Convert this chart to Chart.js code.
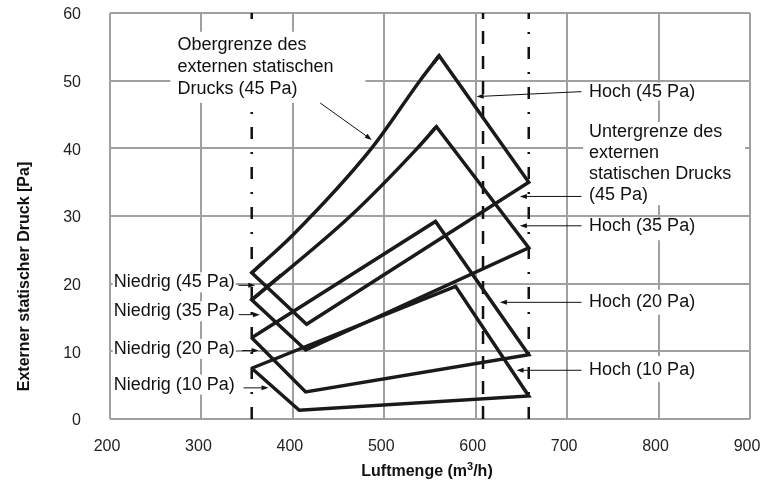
<!DOCTYPE html>
<html>
<head>
<meta charset="utf-8">
<script src="https://cdn.jsdelivr.net/npm/chart.js@4.4.1/dist/chart.umd.min.js"></script>
<style>
  html, body { margin: 0; padding: 0; background: #fff; }
  canvas { display: block; }
</style>
</head>
<body>
<canvas id="fanChart" width="760" height="489"></canvas>
<script>
// --- data (Luftmenge m3/h, Druck Pa) ---
const xTicks = [200, 300, 400, 500, 600, 700, 800, 900];
const yTicks = [0, 10, 20, 30, 40, 50, 60];

// 45 Pa and 35 Pa: curved upper edge + straight rest (peak -> right -> low -> left)
const curve45X = [355, 400, 486, 539, 560];
const curve45Y = [21.6, 27.2, 40, 50, 53.7];
const edge45X = [560, 658, 415, 355];
const edge45Y = [53.7, 35.0, 14.0, 21.6];

const curve35X = [355, 463, 536, 557];
const curve35Y = [17.6, 30, 40, 43.2];
const edge35X = [557, 658, 414, 355];
const edge35Y = [43.2, 25.3, 10.2, 17.6];

// 20 Pa and 10 Pa: closed straight outlines
const flow20 = [355, 556, 658, 414, 355];
const press20 = [12.0, 29.2, 9.5, 4.0, 12.0];
const flow10 = [355, 578, 658, 407, 355];
const press10 = [7.5, 19.6, 3.4, 1.3, 7.5];

// vertical limits of the air flow
const limitFlows = [355, 608, 658];

const FONT = "'Liberation Sans', Arial, sans-serif";

function pts(xs, ys) {
  return xs.map((x, i) => ({x: x, y: ys[i]}));
}

function line(data, smooth) {
  return {
    data: data,
    showLine: true,
    borderColor: '#1a1a1a',
    borderWidth: 3.5,
    borderJoinStyle: 'miter',
    pointRadius: 0,
    tension: 0,
    cubicInterpolationMode: smooth ? 'monotone' : 'default',
    fill: false
  };
}

const datasets = [];
[[curve45X, curve45Y, edge45X, edge45Y], [curve35X, curve35Y, edge35X, edge35Y]].forEach(s => {
  const c = pts(s[0], s[1]);
  datasets.push(line(c, true));
  // straight part, running a short way back along the curve so the corners stay sharp
  const back = (p, q) => ({x: p.x + (q.x - p.x) * 0.3, y: p.y + (q.y - p.y) * 0.3});
  const e = pts(s[2], s[3]);
  datasets.push(line([back(c[c.length - 1], c[c.length - 2])].concat(e, [back(c[0], c[1])]), false));
});
datasets.push(line(pts(flow20, press20), false));
datasets.push(line(pts(flow10, press10), false));
const lastOutline = datasets.length - 1;

limitFlows.forEach((f, i) => {
  datasets.push({
    data: [{x: f, y: 0}, {x: f, y: 60}],
    showLine: true,
    borderColor: '#111',
    borderWidth: 2.5,
    borderDash: i === 1 ? [13, 12] : [12, 13, 2, 13],
    pointRadius: 0,
    fill: false
  });
});

// annotation texts: anchor in data units, box padding in px [l, t, r, b]
const notes = [
  {lines: ['Obergrenze des', 'externen statischen', 'Drucks (45 Pa)'], x: 273.7, y: 55.3, lh: 22, pad: [7, 13, 32, 14], arrow: [429.9, 46.7, 486.3, 41.25]},
  {lines: ['Hoch (45 Pa)'], x: 724, y: 48.38, lh: 21, pad: [7, 9, 6, 9], arrow: [715.7, 48.38, 601.0, 47.65]},
  {lines: ['Untergrenze des', 'externen', 'statischen Drucks', '(45 Pa)'], x: 724, y: 42.39, lh: 21, pad: [6, 10, 14, 10], arrow: [715.7, 32.89, 648.3, 32.89]},
  {lines: ['Hoch (35 Pa)'], x: 724, y: 28.49, lh: 21, pad: [7, 8, 6, 14], arrow: [715.7, 28.55, 648.3, 28.55]},
  {lines: ['Hoch (20 Pa)'], x: 724, y: 17.34, lh: 21, pad: [7, 12, 6, 13], arrow: [715.7, 17.24, 626.4, 17.24]},
  {lines: ['Hoch (10 Pa)'], x: 724, y: 7.23, lh: 21, pad: [7, 14, 6, 12], arrow: [715.7, 7.2, 644.7, 7.2]},
  {lines: ['Niedrig (45 Pa)'], x: 204.1, y: 20.19, lh: 21, pad: [1, 10, 1, 10], arrow: [340.7, 19.75, 358.9, 19.75]},
  {lines: ['Niedrig (35 Pa)'], x: 204.1, y: 15.91, lh: 21, pad: [1, 10, 1, 10], arrow: [340.7, 15.42, 364.0, 15.42]},
  {lines: ['Niedrig (20 Pa)'], x: 204.1, y: 10.36, lh: 21, pad: [1, 10, 1, 10], arrow: [344.4, 10.11, 362.5, 10.11]},
  {lines: ['Niedrig (10 Pa)'], x: 204.1, y: 5.09, lh: 21, pad: [1, 10, 1, 10], arrow: [346.1, 4.6, 373.4, 4.6]}
];

function noteBox(ctx, xs, ys, n) {
  ctx.font = '18px ' + FONT;
  let w = 0;
  n.lines.forEach(l => { w = Math.max(w, ctx.measureText(l).width); });
  const px = xs.getPixelForValue(n.x);
  const py = ys.getPixelForValue(n.y);
  return {
    px: px, py: py,
    left: px - n.pad[0],
    top: py - n.pad[1],
    right: px + w + n.pad[2],
    bottom: py + (n.lines.length - 1) * n.lh + n.pad[3]
  };
}

const notesPlugin = {
  id: 'notes',
  beforeDatasetDraw(chart, args) {
    // white boxes go over the grid and the limit lines, under the outlines
    if (args.index !== lastOutline) return;
    const ctx = chart.ctx;
    const xs = chart.scales.x, ys = chart.scales.y;
    ctx.save();
    ctx.fillStyle = '#fff';
    notes.forEach(n => {
      const b = noteBox(ctx, xs, ys, n);
      ctx.fillRect(b.left, b.top, b.right - b.left, b.bottom - b.top);
    });
    ctx.restore();
  },
  afterDatasetsDraw(chart) {
    const ctx = chart.ctx;
    const xs = chart.scales.x, ys = chart.scales.y;
    ctx.save();
    notes.forEach(n => {
      const b = noteBox(ctx, xs, ys, n);
      ctx.fillStyle = '#111';
      ctx.textAlign = 'left';
      ctx.textBaseline = 'middle';
      n.lines.forEach((l, i) => ctx.fillText(l, b.px, b.py + i * n.lh));

      const x1 = xs.getPixelForValue(n.arrow[0]), y1 = ys.getPixelForValue(n.arrow[1]);
      const x2 = xs.getPixelForValue(n.arrow[2]), y2 = ys.getPixelForValue(n.arrow[3]);
      const a = Math.atan2(y2 - y1, x2 - x1);
      ctx.strokeStyle = '#111';
      ctx.lineWidth = 1;
      ctx.beginPath();
      ctx.moveTo(x1, y1);
      ctx.lineTo(x2 - 5 * Math.cos(a), y2 - 5 * Math.sin(a));
      ctx.stroke();
      ctx.beginPath();
      ctx.moveTo(x2, y2);
      ctx.lineTo(x2 - 7 * Math.cos(a) + 2.5 * Math.sin(a), y2 - 7 * Math.sin(a) - 2.5 * Math.cos(a));
      ctx.lineTo(x2 - 7 * Math.cos(a) - 2.5 * Math.sin(a), y2 - 7 * Math.sin(a) + 2.5 * Math.cos(a));
      ctx.closePath();
      ctx.fill();
    });

    // axis titles (x title with a real raised superscript)
    ctx.fillStyle = '#111';
    ctx.textBaseline = 'alphabetic';
    ctx.textAlign = 'left';
    const big = 'bold 16px ' + FONT, small = 'bold 11px ' + FONT;
    ctx.font = big;
    const w1 = ctx.measureText('Luftmenge (m').width, w3 = ctx.measureText('/h)').width;
    ctx.font = small;
    const w2 = ctx.measureText('3').width;
    let tx = 427 - (w1 + w2 + w3) / 2;
    const base = 476;
    ctx.font = big;
    ctx.fillText('Luftmenge (m', tx, base);
    ctx.font = small;
    ctx.fillText('3', tx + w1, base - 6);
    ctx.font = big;
    ctx.fillText('/h)', tx + w1 + w2, base);

    ctx.font = big;
    ctx.textAlign = 'center';
    ctx.textBaseline = 'middle';
    ctx.translate(25, 276.5);
    ctx.rotate(-Math.PI / 2);
    ctx.fillText('Externer statischer Druck [Pa]', 0, 0);
    ctx.restore();
  }
};

new Chart(document.getElementById('fanChart'), {
  type: 'scatter',
  data: {datasets: datasets},
  options: {
    responsive: false,
    animation: false,
    devicePixelRatio: 1,
    layout: {padding: {top: 13, right: 10, left: 0, bottom: 0}},
    plugins: {
      legend: {display: false},
      tooltip: {enabled: false},
      title: {display: false}
    },
    scales: {
      x: {
        type: 'linear',
        min: xTicks[0],
        max: xTicks[xTicks.length - 1],
        afterBuildTicks: s => { s.ticks = xTicks.map(v => ({value: v})); },
        afterFit: s => { s.height = 70; s.paddingLeft = 0; s.paddingRight = 0; },
        ticks: {
          font: {family: FONT, size: 16},
          color: '#222',
          padding: 18,
          labelOffset: -3,
          maxRotation: 0
        },
        grid: {color: '#a0a0a0', lineWidth: 2, drawTicks: false},
        border: {display: false}
      },
      y: {
        type: 'linear',
        min: yTicks[0],
        max: yTicks[yTicks.length - 1],
        afterBuildTicks: s => { s.ticks = yTicks.map(v => ({value: v})); },
        afterFit: s => { s.width = 110; s.paddingTop = 0; s.paddingBottom = 0; },
        ticks: {
          font: {family: FONT, size: 16},
          color: '#222',
          padding: 29,
          labelOffset: 2
        },
        grid: {color: '#a0a0a0', lineWidth: 2, drawTicks: false},
        border: {display: false}
      }
    }
  },
  plugins: [notesPlugin]
});
</script>
</body>
</html>
